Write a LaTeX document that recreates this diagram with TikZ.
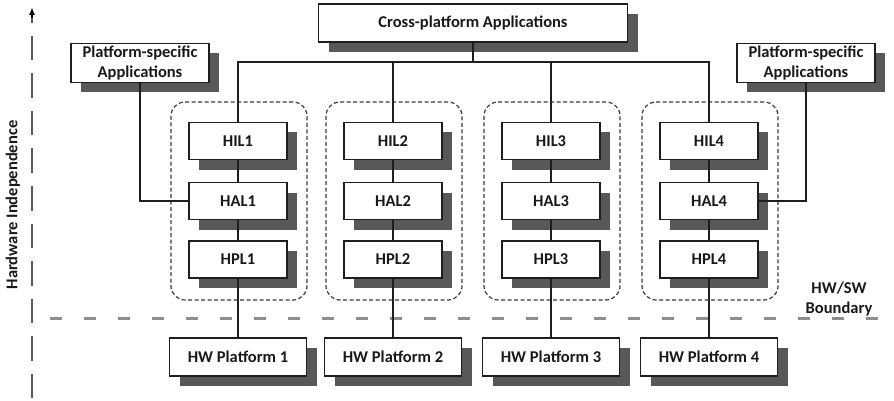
\documentclass[tikz,border=0pt]{standalone}
\usepackage{fontspec}
\setmainfont{Carlito}
\usetikzlibrary{shadows,arrows.meta}
\definecolor{shadowgray}{HTML}{585858}
\definecolor{boxline}{HTML}{1E1E1E}
\definecolor{contline}{HTML}{3A3A3A}
\definecolor{bndgray}{HTML}{8E8E8E}
\definecolor{axisgray}{HTML}{5A5A5A}
\tikzset{
  lbl/.style={font=\fontsize{16.5}{20}\selectfont\bfseries, text=black!90},
  box/.style={lbl, draw=boxline, line width=1.3pt, fill=white, inner sep=0pt, align=center,
    drop shadow={shadow xshift=10pt, shadow yshift=-10pt, fill=shadowgray, opacity=1}},
  layerbox/.style={box, minimum width=98pt, minimum height=37pt},
  hwbox/.style={box, minimum width=137pt, minimum height=38pt},
  psbox/.style={box, minimum width=138pt, minimum height=39pt},
  cont/.style={draw=contline, line width=1.2pt, dash pattern=on 4pt off 2.5pt, rounded corners=14pt},
  conn/.style={draw=boxline, line width=1.2pt},
  bline/.style={draw=bndgray, line width=3pt, dash pattern=on 12pt off 22pt},
  axisline/.style={draw=axisgray, line width=2pt, dash pattern=on 24.5pt off 13pt},
}
\begin{document}
\begin{tikzpicture}[x=1pt,y=-1pt]
\useasboundingbox (0,0) rectangle (894,401);
% containers
\foreach \c/\x in {1/238,2/393,3/551,4/709}{
  \draw[cont] (\x-67,102) rectangle (\x+69,300);
}
% boundary line
\draw[bline] (50,318) -- (885,318);
% axis
\coordinate (axb) at (32,398);
\coordinate (axt) at (32,7);
\draw[axisline] (axb) -- (32,16);
\draw[draw=black, line width=1.6pt, -{Latex[length=8pt,width=6pt]}] (32,18) -- (axt);
\node[lbl, rotate=90] (hwind) at (13,205) {Hardware Independence};
% top nodes
\node[box, minimum width=309pt, minimum height=38pt] (cross) at (473,23) {Cross-platform Applications};
\node[psbox] (psl) at (140,63) {Platform-specific\\Applications};
\node[psbox] (psr) at (806,63) {Platform-specific\\Applications};
% column nodes
\foreach \c/\x in {1/238,2/393,3/551,4/709}{
  \node[layerbox] (hil\c) at (\x,141) {HIL\c};
  \node[layerbox] (hal\c) at (\x,201) {HAL\c};
  \node[layerbox] (hpl\c) at (\x,259.5) {HPL\c};
  \node[hwbox] (hw\c) at (\x,357) {HW Platform \c};
}
% boundary text
\node[lbl, fill=white, inner sep=1pt, align=center] (bnd) at (839,299) {HW/SW\\Boundary};
% connectors
\coordinate (bus) at (473,62);
\draw[conn] (cross.south) -- (cross.south |- bus);
\draw[conn] (hil1.north) -- (hil1.north |- bus) -- (hil4.north |- bus) -- (hil4.north);
\draw[conn] (hil2.north) -- (hil2.north |- bus);
\draw[conn] (hil3.north) -- (hil3.north |- bus);
\foreach \c in {1,2,3,4}{
  \draw[conn] (hil\c) -- (hal\c);
  \draw[conn] (hal\c) -- (hpl\c);
  \draw[conn] (hpl\c) -- (hw\c);
}
\draw[conn] (psl.south) |- (hal1.west);
\draw[conn] (psr.south) |- (hal4.east);
\end{tikzpicture}
\end{document}
